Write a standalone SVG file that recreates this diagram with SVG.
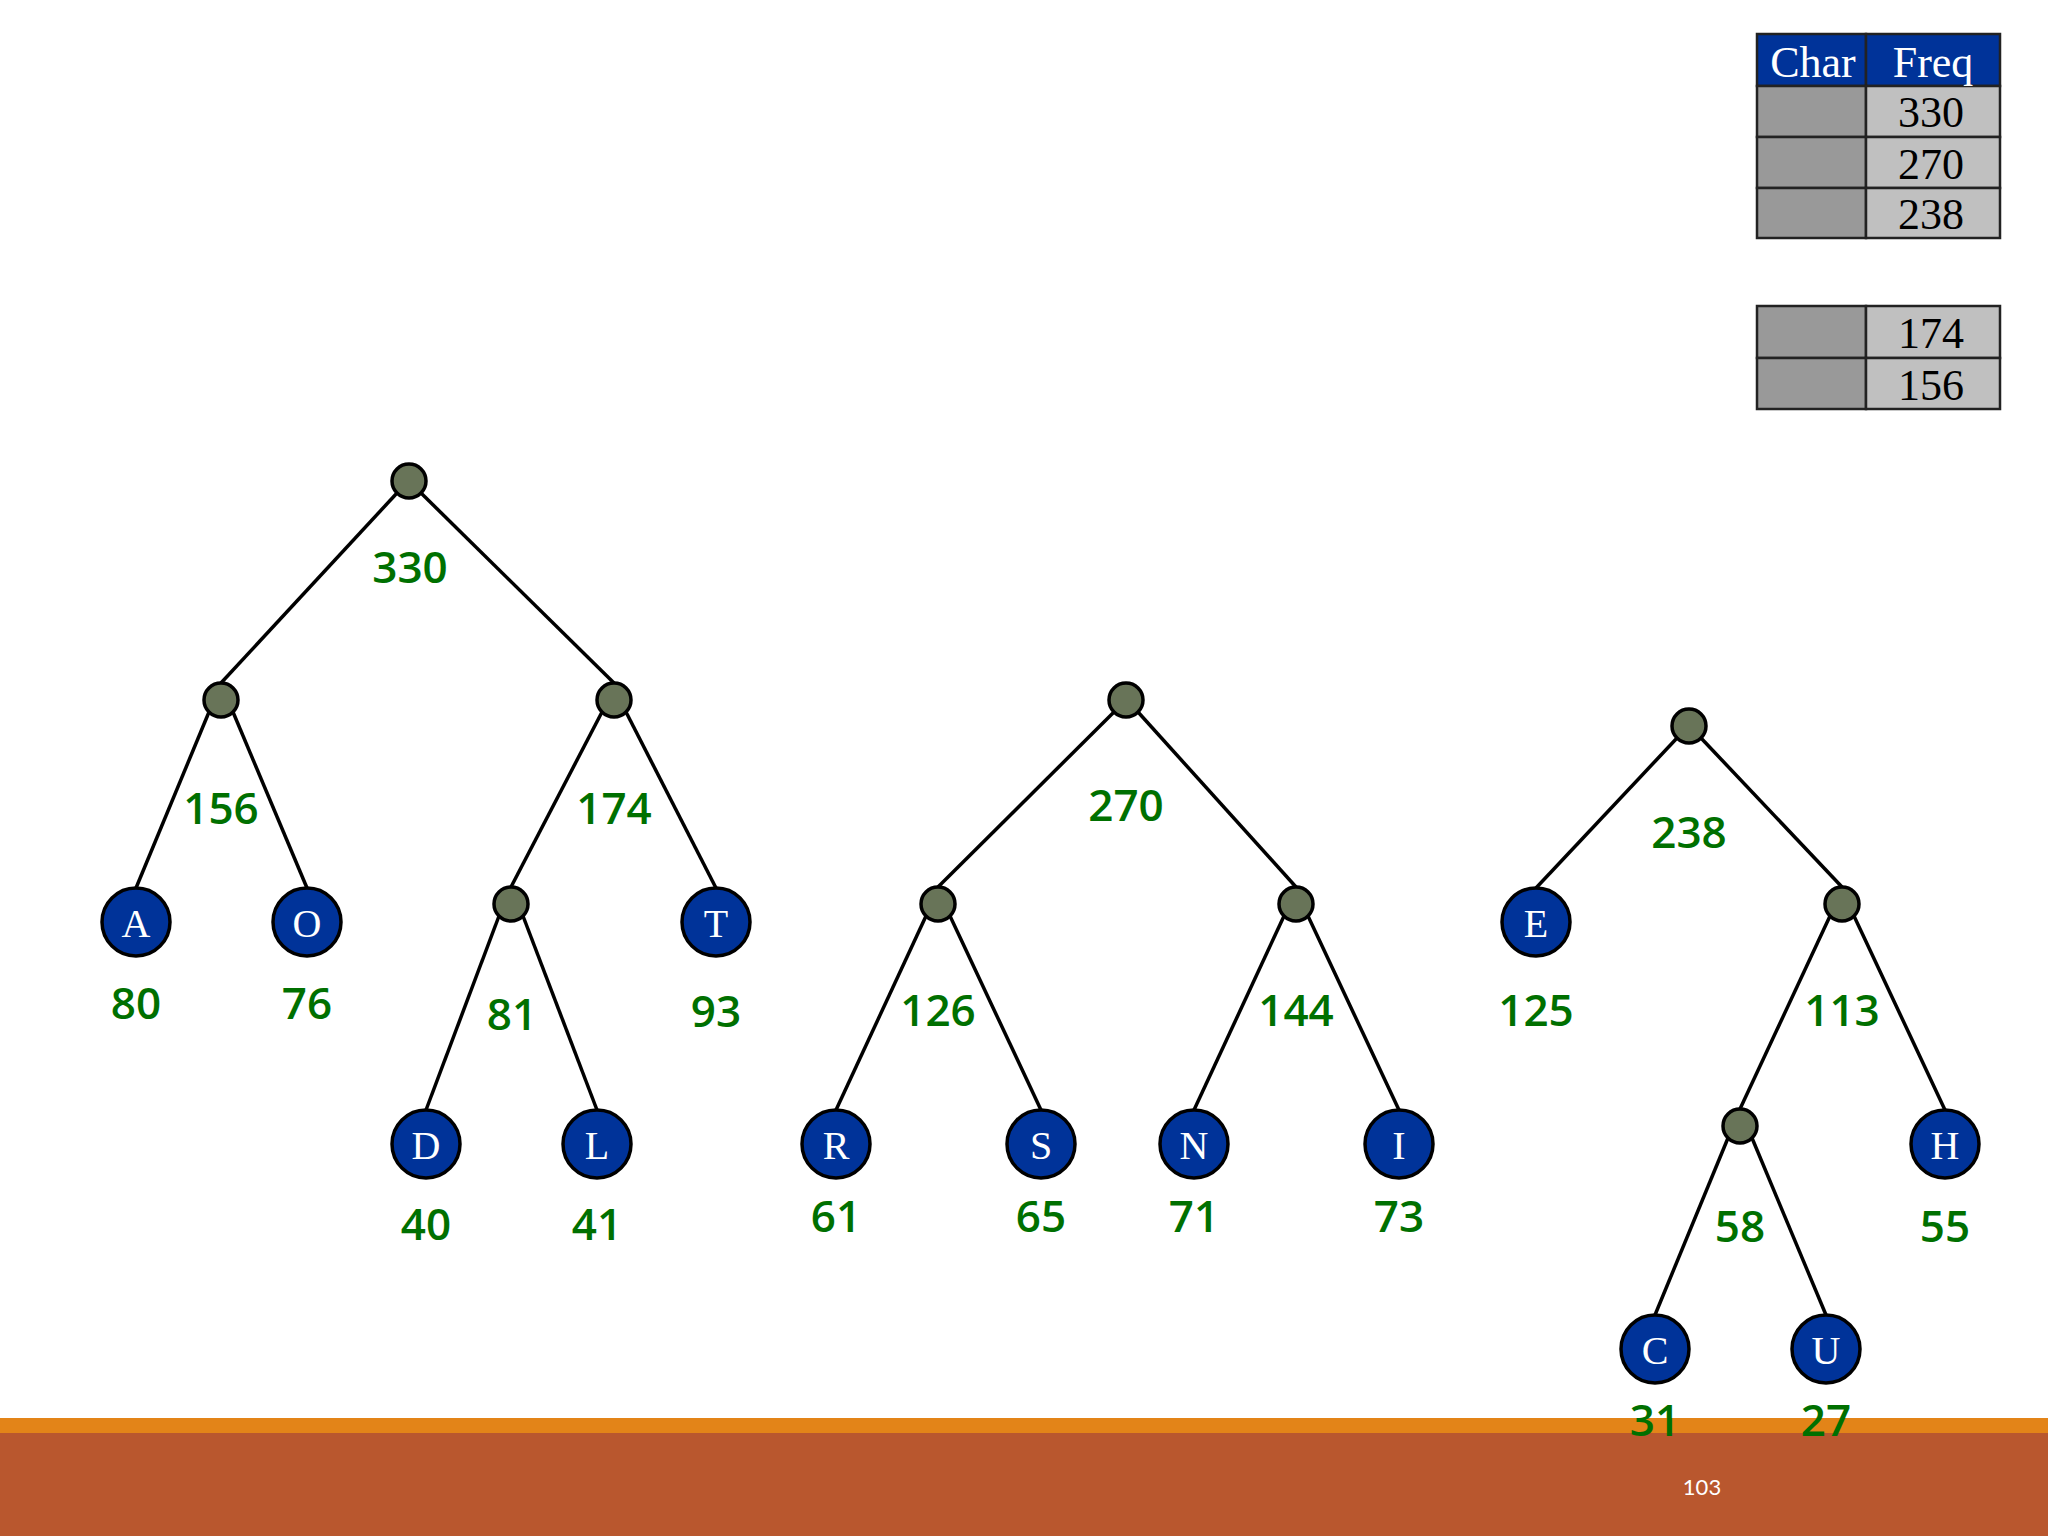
<svg xmlns="http://www.w3.org/2000/svg" width="2048" height="1536" viewBox="0 0 2048 1536">
<style>
.e{stroke:#000;stroke-width:3.5;fill:none}
.in{fill:#687458;stroke:#000;stroke-width:3.5}
.lf{fill:#003399;stroke:#000;stroke-width:3.5}
.lt{font-family:"Liberation Serif",serif;font-size:40px;fill:#fff;text-anchor:middle}
.w{font-family:"Open Sans","DejaVu Sans",sans-serif;font-size:44px;font-weight:600;fill:#007000;text-anchor:middle}
.th{fill:#003399;stroke:#222;stroke-width:2.5}
.cd{fill:#999;stroke:#222;stroke-width:2.5}
.cl{fill:#c0c0c0;stroke:#222;stroke-width:2.5}
.tt{font-family:"Liberation Serif",serif;font-size:44px;text-anchor:middle}
</style>
<rect width="2048" height="1536" fill="#fff"/>
<g id="table1">
<rect class="th" x="1757" y="34" width="109" height="52"/>
<rect class="th" x="1866" y="34" width="134" height="52"/>
<rect class="cd" x="1757" y="86" width="109" height="51"/>
<rect class="cl" x="1866" y="86" width="134" height="51"/>
<rect class="cd" x="1757" y="137" width="109" height="51"/>
<rect class="cl" x="1866" y="137" width="134" height="51"/>
<rect class="cd" x="1757" y="188" width="109" height="50"/>
<rect class="cl" x="1866" y="188" width="134" height="50"/>
<text class="tt" x="1813" y="77" fill="#fff">Char</text>
<text class="tt" x="1933" y="77" fill="#fff">Freq</text>
<text class="tt" x="1931" y="127" fill="#000">330</text>
<text class="tt" x="1931" y="179" fill="#000">270</text>
<text class="tt" x="1931" y="229" fill="#000">238</text>
</g>
<g id="table2">
<rect class="cd" x="1757" y="306" width="109" height="52"/>
<rect class="cl" x="1866" y="306" width="134" height="52"/>
<rect class="cd" x="1757" y="358" width="109" height="51"/>
<rect class="cl" x="1866" y="358" width="134" height="51"/>
<text class="tt" x="1931" y="348" fill="#000">174</text>
<text class="tt" x="1931" y="400" fill="#000">156</text>
</g>
<g id="connectors">
<line class="e" x1="397" y1="493" x2="221" y2="683"/>
<line class="e" x1="421" y1="493" x2="614" y2="683"/>
<line class="e" x1="209" y1="712" x2="136" y2="888"/>
<line class="e" x1="233" y1="712" x2="307" y2="888"/>
<line class="e" x1="602" y1="712" x2="511" y2="887"/>
<line class="e" x1="626" y1="712" x2="716" y2="888"/>
<line class="e" x1="499" y1="916" x2="426" y2="1110"/>
<line class="e" x1="523" y1="916" x2="597" y2="1110"/>
<line class="e" x1="1114" y1="712" x2="938" y2="887"/>
<line class="e" x1="1138" y1="712" x2="1296" y2="887"/>
<line class="e" x1="926" y1="916" x2="836" y2="1110"/>
<line class="e" x1="950" y1="916" x2="1041" y2="1110"/>
<line class="e" x1="1284" y1="916" x2="1194" y2="1110"/>
<line class="e" x1="1308" y1="916" x2="1399" y2="1110"/>
<line class="e" x1="1677" y1="738" x2="1536" y2="888"/>
<line class="e" x1="1701" y1="738" x2="1842" y2="887"/>
<line class="e" x1="1830" y1="916" x2="1740" y2="1109"/>
<line class="e" x1="1854" y1="916" x2="1945" y2="1110"/>
<line class="e" x1="1728" y1="1138" x2="1655" y2="1315"/>
<line class="e" x1="1752" y1="1138" x2="1826" y2="1315"/>
</g>
<g id="n330"><circle class="in" cx="409" cy="481" r="17"/><text class="w" x="410" y="583">330</text></g>
<g id="n156"><circle class="in" cx="221" cy="700" r="17"/><text class="w" x="221" y="824">156</text></g>
<g id="n174"><circle class="in" cx="614" cy="700" r="17"/><text class="w" x="614" y="824">174</text></g>
<g id="nA"><circle class="lf" cx="136" cy="922" r="34"/><text class="lt" x="136" y="937">A</text><text class="w" x="136" y="1019">80</text></g>
<g id="nO"><circle class="lf" cx="307" cy="922" r="34"/><text class="lt" x="307" y="937">O</text><text class="w" x="307" y="1019">76</text></g>
<g id="n81"><circle class="in" cx="511" cy="904" r="17"/><text class="w" x="512" y="1030">81</text></g>
<g id="nT"><circle class="lf" cx="716" cy="922" r="34"/><text class="lt" x="716" y="937">T</text><text class="w" x="716" y="1027">93</text></g>
<g id="nD"><circle class="lf" cx="426" cy="1144" r="34"/><text class="lt" x="426" y="1159">D</text><text class="w" x="426" y="1240">40</text></g>
<g id="nL"><circle class="lf" cx="597" cy="1144" r="34"/><text class="lt" x="597" y="1159">L</text><text class="w" x="597" y="1240">41</text></g>
<g id="n270"><circle class="in" cx="1126" cy="700" r="17"/><text class="w" x="1126" y="821">270</text></g>
<g id="n126"><circle class="in" cx="938" cy="904" r="17"/><text class="w" x="938" y="1026">126</text></g>
<g id="n144"><circle class="in" cx="1296" cy="904" r="17"/><text class="w" x="1296" y="1026">144</text></g>
<g id="nR"><circle class="lf" cx="836" cy="1144" r="34"/><text class="lt" x="836" y="1159">R</text><text class="w" x="836" y="1232">61</text></g>
<g id="nS"><circle class="lf" cx="1041" cy="1144" r="34"/><text class="lt" x="1041" y="1159">S</text><text class="w" x="1041" y="1232">65</text></g>
<g id="nN"><circle class="lf" cx="1194" cy="1144" r="34"/><text class="lt" x="1194" y="1159">N</text><text class="w" x="1194" y="1232">71</text></g>
<g id="nI"><circle class="lf" cx="1399" cy="1144" r="34"/><text class="lt" x="1399" y="1159">I</text><text class="w" x="1399" y="1232">73</text></g>
<g id="n238"><circle class="in" cx="1689" cy="726" r="17"/><text class="w" x="1689" y="848">238</text></g>
<g id="nE"><circle class="lf" cx="1536" cy="922" r="34"/><text class="lt" x="1536" y="937">E</text><text class="w" x="1536" y="1026">125</text></g>
<g id="n113"><circle class="in" cx="1842" cy="904" r="17"/><text class="w" x="1842" y="1026">113</text></g>
<g id="nH"><circle class="lf" cx="1945" cy="1144" r="34"/><text class="lt" x="1945" y="1159">H</text><text class="w" x="1945" y="1242">55</text></g>
<g id="n58"><circle class="in" cx="1740" cy="1126" r="17"/><text class="w" x="1740" y="1242">58</text></g>
<g id="footer">
<rect x="0" y="1418" width="2048" height="15" fill="#e38418"/>
<rect x="0" y="1433" width="2048" height="103" fill="#b9572e"/>
<text x="1702" y="1495" font-family="Lato,'Open Sans',sans-serif" font-size="22" fill="#fff" text-anchor="middle">103</text>
</g>
<g id="nC"><circle class="lf" cx="1655" cy="1349" r="34"/><text class="lt" x="1655" y="1364">C</text><text class="w" x="1655" y="1436">31</text></g>
<g id="nU"><circle class="lf" cx="1826" cy="1349" r="34"/><text class="lt" x="1826" y="1364">U</text><text class="w" x="1826" y="1436">27</text></g>
</svg>
